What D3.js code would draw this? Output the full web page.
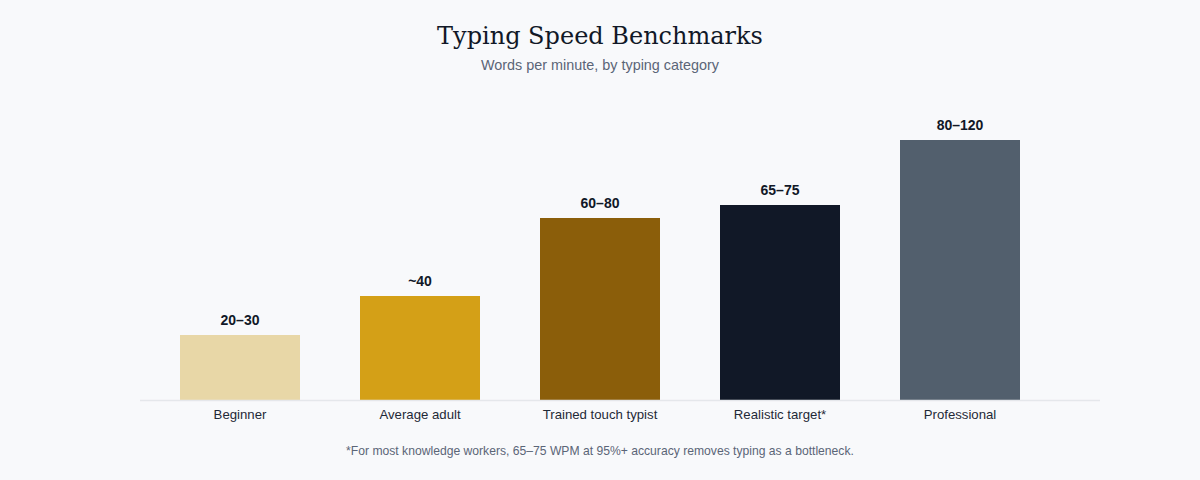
<!DOCTYPE html>
<html lang="en">
<head>
    <meta charset="UTF-8">
    <title>Typing Speed Benchmarks</title>
    <script src="https://cdn.jsdelivr.net/npm/d3@7"></script>
    <style>
      body { margin: 0; background: #f8f9fb; }
    </style>
</head>
<body>
    <script>
      const categories = ["Beginner", "Average adult", "Trained touch typist", "Realistic target*", "Professional"];
      const wpm = [25, 40, 70, 75, 100];
      const valueLabels = ["20\u201330", "~40", "60\u201380", "65\u201375", "80\u2013120"];
      const barColors = ["#e8d7a7", "#d4a017", "#8b5e0a", "#111827", "#525f6d"];

      const w = 1200;
      const h = 480;
      const baseline = 400;

      const xScale = d3.scaleBand()
                       .domain(categories)
                       .range([150, 1050])
                       .paddingInner(1 / 3)
                       .paddingOuter(1 / 6);

      const yScale = d3.scaleLinear()
                       .domain([0, 100])
                       .range([baseline, 140]);

      const svg = d3.select("body")
                    .append("svg")
                    .attr("width", w)
                    .attr("height", h)
                    .style("font-family", "'Liberation Sans', Arial, sans-serif");

      // title + subtitle
      svg.append("text")
         .attr("x", w / 2)
         .attr("y", 44)
         .attr("text-anchor", "middle")
         .style("font-family", "'DejaVu Serif', serif")
         .style("font-size", "24px")
         .attr("fill", "#111827")
         .text("Typing Speed Benchmarks");

      svg.append("text")
         .attr("x", w / 2)
         .attr("y", 70)
         .attr("text-anchor", "middle")
         .style("font-size", "14.4px")
         .attr("fill", "#5b6577")
         .text("Words per minute, by typing category");

      svg.selectAll("rect.bar")
         .data(wpm)
         .enter()
         .append("rect")
         .attr("class", "bar")
         .attr("x", (d, i) => xScale(categories[i]))
         .attr("y", (d) => yScale(d))
         .attr("width", xScale.bandwidth())
         .attr("height", (d) => baseline - yScale(d))
         .attr("fill", (d, i) => barColors[i]);

      svg.selectAll("text.value")
         .data(wpm)
         .enter()
         .append("text")
         .attr("class", "value")
         .attr("x", (d, i) => xScale(categories[i]) + xScale.bandwidth() / 2)
         .attr("y", (d) => yScale(d) - 10)
         .attr("text-anchor", "middle")
         .style("font-size", "14px")
         .style("font-weight", "bold")
         .attr("fill", "#111827")
         .text((d, i) => valueLabels[i]);

      // x axis (category labels only, light baseline)
      const xAxis = d3.axisBottom(xScale).tickSize(0).tickPadding(10);
      const gx = svg.append("g")
         .attr("transform", "translate(0," + baseline + ")")
         .call(xAxis);
      gx.select(".domain").remove();
      gx.selectAll("text")
        .style("font-family", "'Liberation Sans', Arial, sans-serif")
        .style("font-size", "13.2px")
        .attr("fill", "#1f2937");

      svg.append("line")
         .attr("x1", 140)
         .attr("x2", 1100)
         .attr("y1", baseline + 0.5)
         .attr("y2", baseline + 0.5)
         .attr("stroke", "#e5e7eb")
         .attr("stroke-width", 1.5);

      // footnote
      svg.append("text")
         .attr("x", w / 2)
         .attr("y", 455)
         .attr("text-anchor", "middle")
         .style("font-size", "12.15px")
         .attr("fill", "#5b6577")
         .text("*For most knowledge workers, 65\u201375 WPM at 95%+ accuracy removes typing as a bottleneck.");
    </script>
</body>
</html>
